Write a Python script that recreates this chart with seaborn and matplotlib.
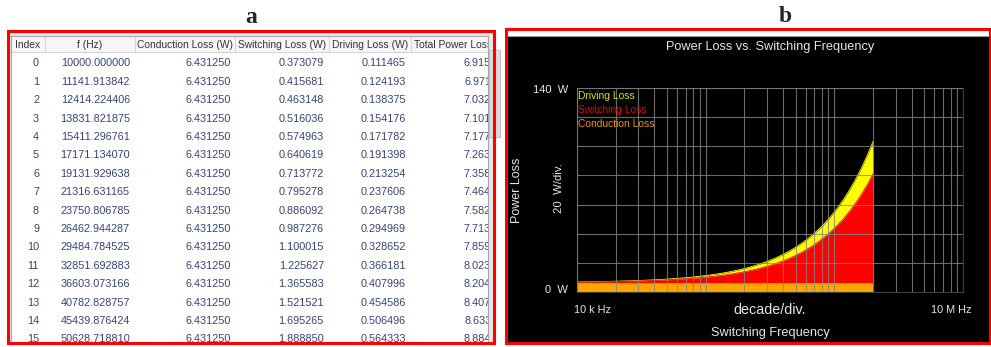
import matplotlib.pyplot as plt
import matplotlib.patches as mpatches
from matplotlib.ticker import LogLocator, NullFormatter
import pandas as pd
import seaborn as sns

freq_hz = [10000.000000, 11141.913842, 12414.224406, 13831.821875, 15411.296761,
           17171.134070, 19131.929638, 21316.631165, 23750.806785, 26462.944287,
           29484.784525, 32851.692883, 36603.073166, 40782.828757, 45439.876424,
           50628.718810,
           56410.1, 62852, 70029, 78025, 86935, 96863, 107923, 120247, 133978,
           149278, 166324, 185317, 206478, 230056, 256327, 285597, 318210, 354547,
           395033, 440142, 490403, 546402, 608797, 678315, 755774, 842077, 938235,
           1045370, 1164740, 1297750, 1445940, 1611060, 1795030, 2000000]
switching_w = [0.373079, 0.415681, 0.463148, 0.516036, 0.574963, 0.640619, 0.713772,
               0.795278, 0.886092, 0.987276, 1.100015, 1.225627, 1.365583, 1.521521,
               1.695265, 1.888850,
               2.10454, 2.34488, 2.61264, 2.91095, 3.24336, 3.61376, 4.02638, 4.48616,
               4.99844, 5.56925, 6.20520, 6.91379, 7.70327, 8.58291, 9.56303, 10.6550,
               11.8717, 13.2274, 14.7378, 16.4208, 18.2959, 20.3851, 22.7129, 25.3065,
               28.1963, 31.4161, 35.0036, 39.0006, 43.4540, 48.4164, 53.9450, 60.1053,
               66.9688, 74.6158]
driving_w = [0.111465, 0.124193, 0.138375, 0.154176, 0.171782, 0.191398, 0.213254,
             0.237606, 0.264738, 0.294969, 0.328652, 0.366181, 0.407996, 0.454586,
             0.506496, 0.564333,
             0.62878, 0.70058, 0.78058, 0.86971, 0.96902, 1.07968, 1.20296, 1.34033,
             1.49339, 1.66393, 1.85393, 2.06564, 2.30151, 2.56432, 2.85715, 3.18341,
             3.54692, 3.95196, 4.40323, 4.90604, 5.46628, 6.09047, 6.78597, 7.56083,
             8.42420, 9.38621, 10.45804, 11.65222, 12.98278, 14.46537, 16.11717,
             17.95768, 20.00830, 22.29300]
conduction_w = 6.431250

headers = ["Index", "f (Hz)", "Conduction Loss (W)", "Switching Loss (W)",
           "Driving Loss (W)", "Total Power Loss (W)"]
legend_labels = ["Driving Loss", "Switching Loss", "Conduction Loss"]
shown_rows = 16

df = pd.DataFrame({"f": freq_hz, "switching": switching_w, "driving": driving_w})
df["conduction"] = conduction_w
df["cond_sw"] = df.conduction + df.switching
df["total"] = df.cond_sw + df.driving

W, H = 991, 347
sns.set_theme(style="white")
plt.rcParams["font.family"] = ["Liberation Sans", "DejaVu Sans"]

fig = plt.figure(figsize=(W / 100, H / 100), dpi=100)
fig.patch.set_facecolor("white")

# background layer in pixel coords
bg = fig.add_axes([0, 0, 1, 1], zorder=0)
bg.set_xlim(0, W)
bg.set_ylim(H, 0)
bg.axis("off")
bg.add_patch(mpatches.Rectangle((7, 30), 487, 313, fc="#e9e9e9", ec="none"))
bg.add_patch(mpatches.Rectangle((489, 50), 11, 87, fc="#dcdcdc", ec="#b8b8b8", lw=0.6))
bg.add_patch(mpatches.Rectangle((506, 29), 484, 7, fc="white", ec="none"))
bg.add_patch(mpatches.Rectangle((506, 36), 484, 306, fc="black", ec="none"))
bg.plot([506, 990], [35.5, 35.5], color="#9a9a9a", lw=0.8)

# ---- panel a: table ----
tab = fig.add_axes([11 / W, (H - 343) / H, 477 / W, (343 - 36) / H], zorder=1)
tab.set_xlim(11, 488)
tab.set_ylim(343, 36)
tab.set_facecolor("white")
tab.set_xticks([])
tab.set_yticks([])
for s in tab.spines.values():
    s.set_color("#a8a8a8")
    s.set_linewidth(0.8)
tab.add_patch(mpatches.Rectangle((11, 36), 477, 16, fc="#f6f6f6", ec="none"))
tab.plot([11, 488], [52, 52], color="#d6d6d6", lw=0.8)
for xs in [45, 135, 235, 329, 411]:
    tab.plot([xs, xs], [36, 52], color="#d6d6d6", lw=0.8)

head_x = [28, 90, 185, 282, 370, 414]
head_ha = ["center"] * 5 + ["left"]
for hx, ha, txt in zip(head_x, head_ha, headers):
    tab.text(hx, 45, txt, ha=ha, va="center", fontsize=7.4, color="#333333", clip_on=True)

val_x = [39, 130, 231, 324, 406, 509]
for i in range(shown_rows):
    y = 63.3 + i * 18.4
    row = [str(i), f"{freq_hz[i]:.6f}", f"{conduction_w:.6f}", f"{switching_w[i]:.6f}",
           f"{driving_w[i]:.6f}", f"{df.total[i]:.6f}"]
    for vx, txt in zip(val_x, row):
        tab.text(vx, y, txt, ha="right", va="center", fontsize=7.8, color="#34437a",
                 clip_on=True)

# ---- panel b: stacked loss chart ----
ax = fig.add_axes([577 / W, (H - 292) / H, 386 / W, 204 / H], zorder=1)
ax.set_facecolor("black")
ax.set_xscale("log")
ax.fill_between(df.f, 0, df.conduction, color="#ffa500", lw=0)
ax.fill_between(df.f, df.conduction, df.cond_sw, color="#ff0000", lw=0)
ax.fill_between(df.f, df.cond_sw, df.total, color="#ffff00", lw=0)
sns.lineplot(data=df, x="f", y="total", color="#ffff00", lw=0.6, ax=ax)
sns.lineplot(data=df, x="f", y="cond_sw", color="#ff0000", lw=0.6, ax=ax)
ax.set_xlim(1e4, 1e7)
ax.set_ylim(0, 140)
ax.set_yticks(range(0, 141, 20))
ax.xaxis.set_minor_locator(LogLocator(base=10, subs=range(2, 10)))
ax.xaxis.set_minor_formatter(NullFormatter())
ax.grid(True, which="both", color="#858585", lw=0.8, alpha=0.8)
ax.set_axisbelow(False)
ax.tick_params(which="both", length=0, labelbottom=False, labelleft=False)
ax.set_xlabel("")
ax.set_ylabel("")
for s in ax.spines.values():
    s.set_color("#3c3c3c")
    s.set_linewidth(0.8)

leg_colors = ["#d8e800", "#f00000", "#e89400"]
for k, (lab, c) in enumerate(zip(legend_labels, leg_colors)):
    ax.text(0.003, 0.96 - k * 0.069, lab, transform=ax.transAxes, color=c,
            fontsize=7.4, va="center", ha="left")

# ---- overlay: frames and text ----
top = fig.add_axes([0, 0, 1, 1], zorder=5)
top.set_xlim(0, W)
top.set_ylim(H, 0)
top.axis("off")
top.patch.set_alpha(0)
top.add_patch(mpatches.Rectangle((7.5, 30.5), 486, 312, fill=False, ec="#ff0000", lw=2.2))
top.add_patch(mpatches.Rectangle((505.5, 28.5), 484, 314, fill=False, ec="#ff0000", lw=2.2))
top.text(251, 23, "a", ha="center", va="baseline", fontsize=17, fontweight="bold",
         family="Liberation Serif")
top.text(785, 22, "b", ha="center", va="baseline", fontsize=17, fontweight="bold",
         family="Liberation Serif")

txt_c = "#e6e6e6"
top.text(770, 47, "Power Loss vs. Switching Frequency", ha="center", va="center",
         fontsize=9.2, color=txt_c)
top.text(568, 90, "140  W", ha="right", va="center", fontsize=8, color=txt_c)
top.text(568, 290, "0  W", ha="right", va="center", fontsize=8, color=txt_c)
top.text(559, 188, "20  W/div.", ha="center", va="center", rotation=90, fontsize=8.2,
         color=txt_c)
top.text(517, 190, "Power Loss", ha="center", va="center", rotation=90, fontsize=9,
         color=txt_c)
top.text(592, 310, "10 k Hz", ha="center", va="center", fontsize=7.8, color=txt_c)
top.text(951, 310, "10 M Hz", ha="center", va="center", fontsize=7.8, color=txt_c)
top.text(770, 310, "decade/div.", ha="center", va="center", fontsize=10.4, color=txt_c)
top.text(770, 333, "Switching Frequency", ha="center", va="center", fontsize=9.2,
         color=txt_c)

fig.savefig("out.png", dpi=100)
